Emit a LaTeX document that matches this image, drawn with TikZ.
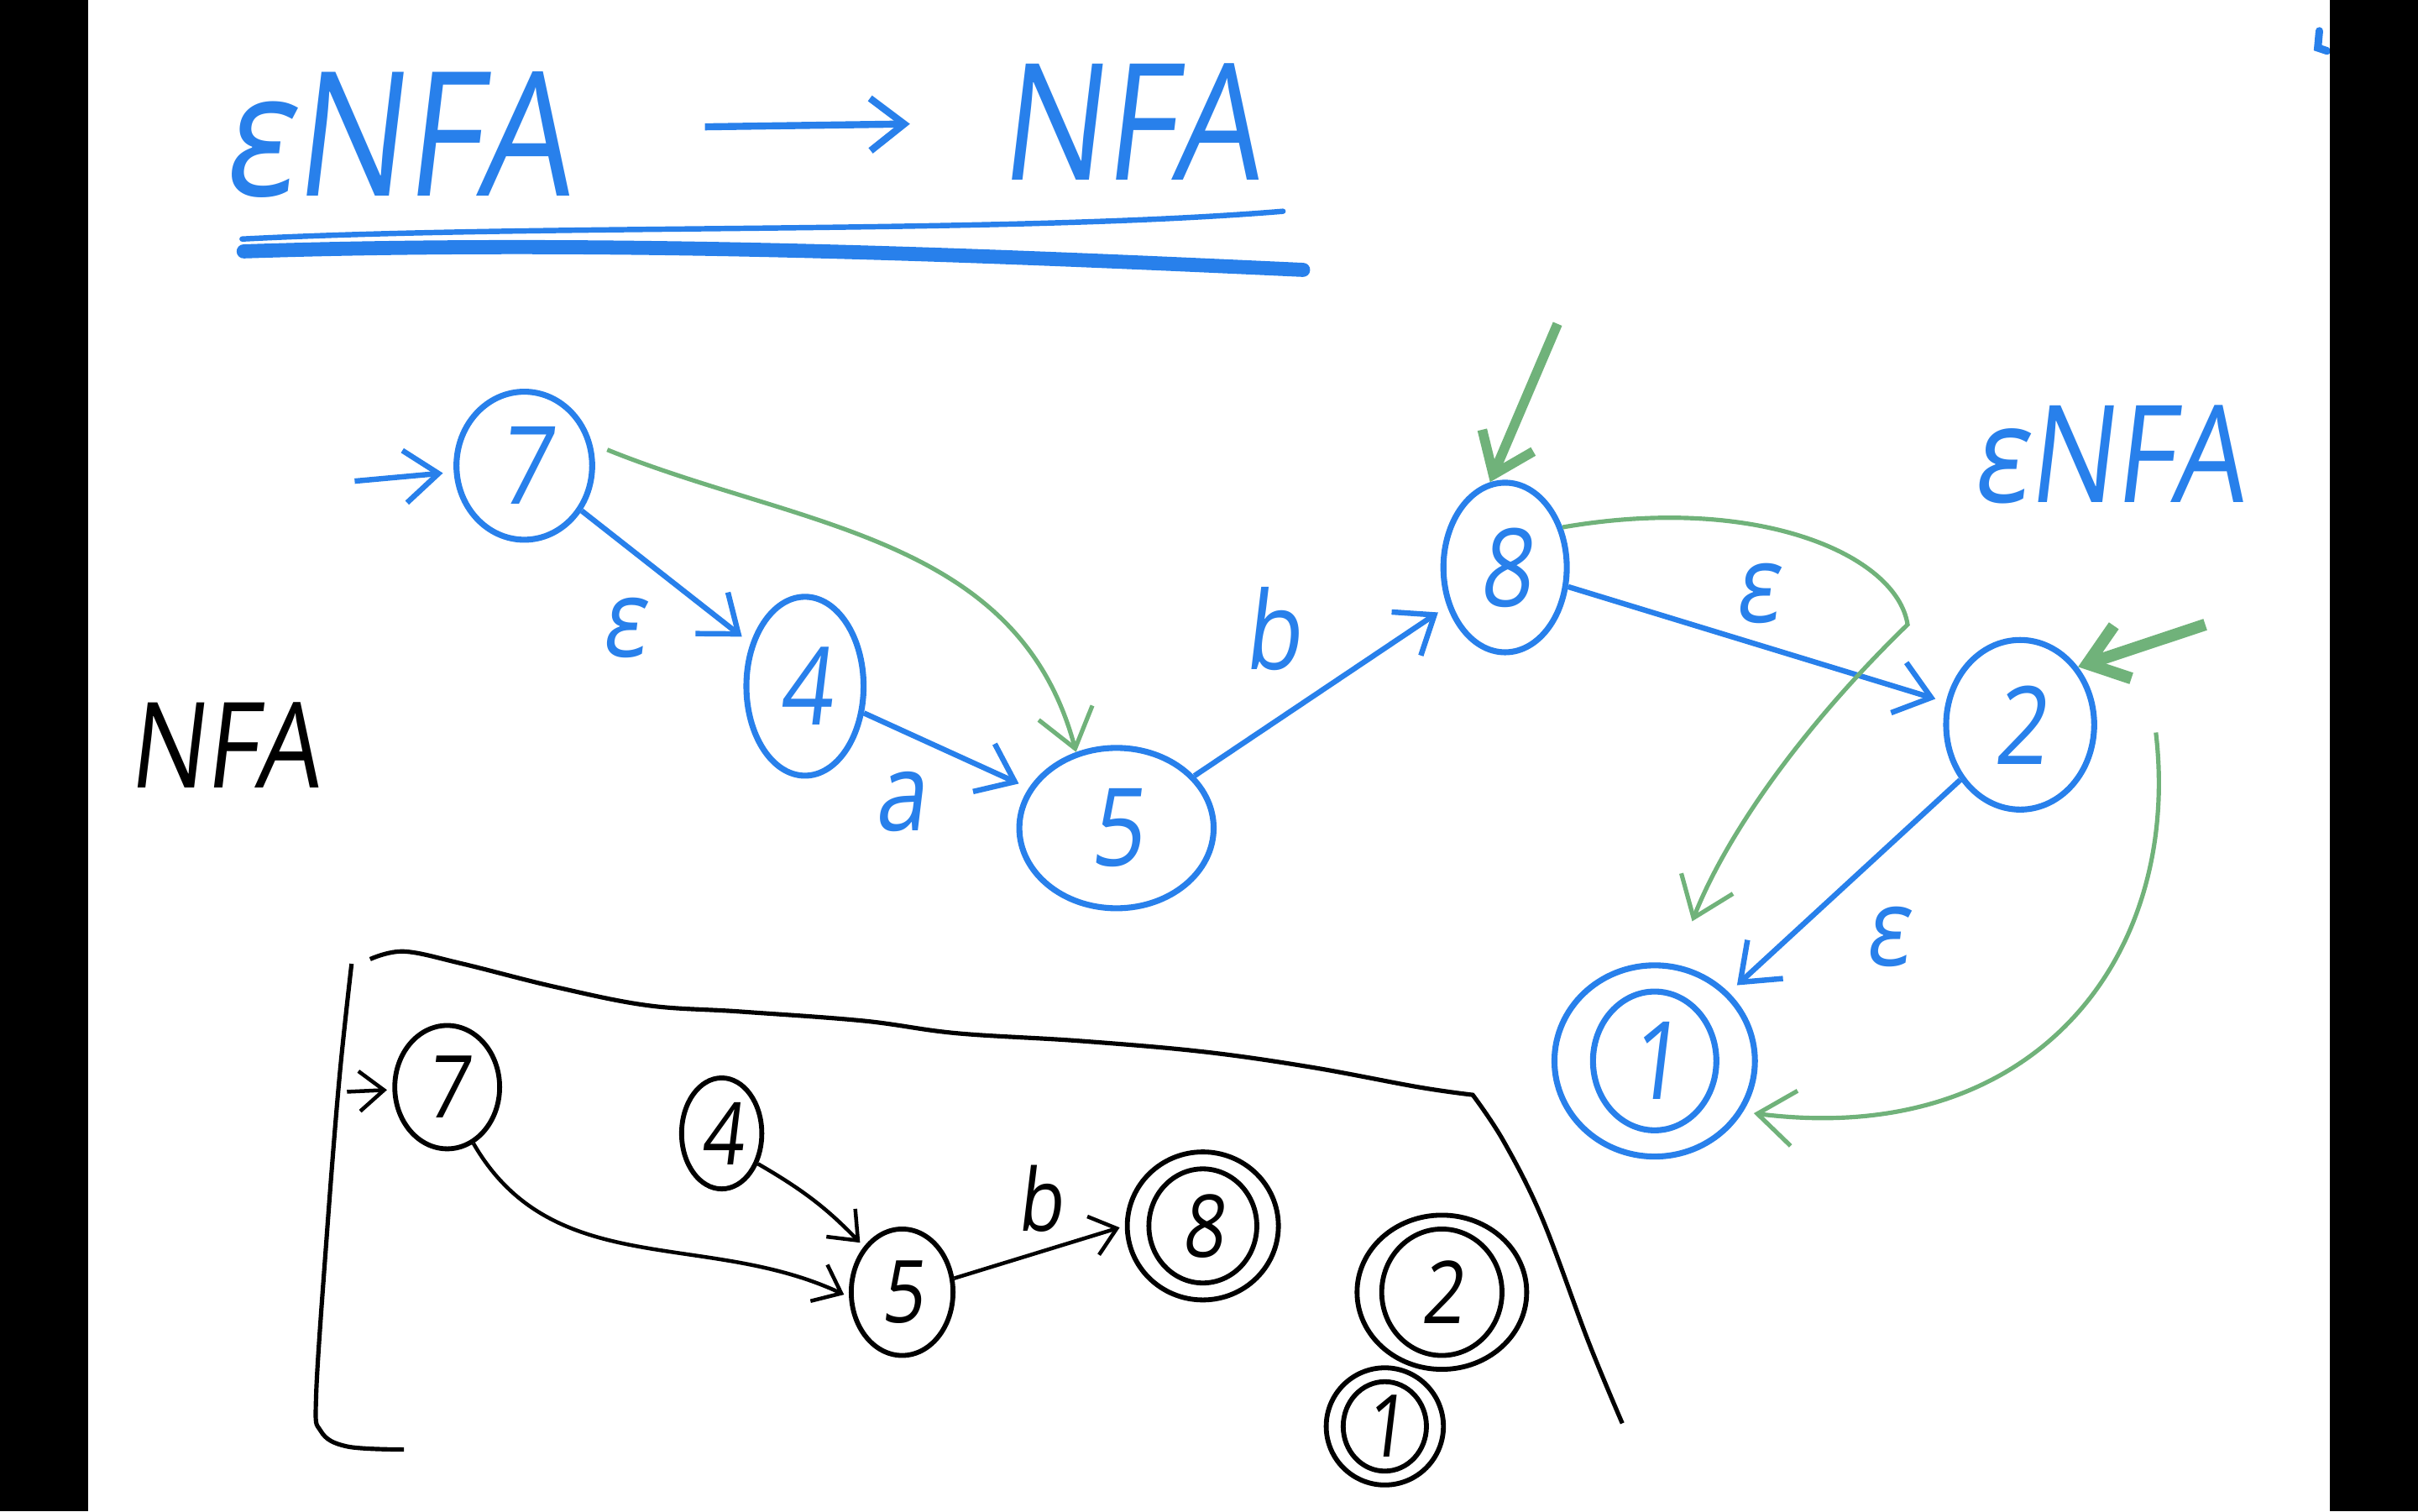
\documentclass[tikz,border=0pt]{standalone}
\usepackage{fontspec}
\setmainfont{Open Sans}
\newfontfamily\handfont[FakeStretch=0.85,FakeSlant=0.12]{Open Sans}
\usetikzlibrary{arrows.meta,shapes.geometric}

\definecolor{penblue}{RGB}{40,128,235}
\definecolor{pengreen}{RGB}{112,178,122}

\begin{document}
\begin{tikzpicture}[
  bstate/.style={draw=penblue,ellipse,line width=1.1pt,text=penblue,inner sep=0pt,font=\handfont\fontsize{20}{20}\selectfont},
  kstate/.style={draw=black,ellipse,line width=0.9pt,inner sep=0pt,font=\handfont\fontsize{16}{16}\selectfont},
  bedge/.style={penblue,line width=1pt,shorten >=2pt,-{Straight Barb[length=2.2mm,width=3.4mm]}},
  gedge/.style={pengreen,line width=0.8pt,-{Straight Barb[length=2.4mm,width=3.6mm]}},
  kedge/.style={black,line width=0.7pt,shorten >=1pt,-{Straight Barb[length=1.6mm,width=2.6mm]}},
  blab/.style={text=penblue,font=\handfont\fontsize{20}{20}\selectfont},
  klab/.style={text=black,font=\handfont\fontsize{16}{16}\selectfont}]

\useasboundingbox (0,0) rectangle (15.68,-9.8);

% corner mark, then the black bars
\draw[penblue,line width=1.4pt,line cap=round] (15.04,-0.20) -- (15.03,-0.31) -- (15.09,-0.33);
\fill[black] (0,0) rectangle (0.57,-9.8);
\fill[black] (15.11,0) rectangle (15.68,-9.8);

% title
\node[penblue,anchor=base,font=\handfont\fontsize{32}{32}\selectfont] (tleft) at (2.57,-1.27) {εNFA};
\node[penblue,anchor=base,font=\handfont\fontsize{30}{30}\selectfont] (tright) at (7.32,-1.17) {NFA};
\draw[bedge,line width=1.3pt] (tleft.east) ++(0.75,0.05) coordinate (tarr) (tarr) -- ++(1.4,0.02) coordinate (tarrend);
\draw[penblue,line width=1pt,line cap=round] (1.57,-1.55) .. controls (3.5,-1.45) and (6.5,-1.52) .. (8.32,-1.37);
\draw[penblue,line width=2.6pt,line cap=round] (1.58,-1.63) .. controls (4,-1.55) and (6.5,-1.66) .. (8.45,-1.75);

% eNFA
\coordinate (U7) at (3.40,-3.02);
\coordinate (U4) at (5.22,-4.45);
\coordinate (U5) at (7.24,-5.37);
\coordinate (U8) at (9.76,-3.68);
\coordinate (U2) at (13.10,-4.70);
\coordinate (U1) at (10.73,-6.88);

\node[bstate,minimum width=0.88cm,minimum height=0.96cm] (u7) at (U7) {7};
\node[bstate,minimum width=0.76cm,minimum height=1.16cm] (u4) at (U4) {4};
\node[bstate,minimum width=1.26cm,minimum height=1.04cm] (u5) at (U5) {5};
\node[bstate,minimum width=0.80cm,minimum height=1.10cm] (u8) at (U8) {8};
\node[bstate,minimum width=0.96cm,minimum height=1.10cm] (u2) at (U2) {2};
\node[bstate,minimum width=1.30cm,minimum height=1.24cm] (u1) at (U1) {1};
\node[bstate,minimum width=0.80cm,minimum height=0.90cm] (u1in) at (U1) {};

\coordinate (u7in) at (2.30,-3.12);
\draw[bedge] (u7in) -- (u7);

\foreach \a/\b/\t/\p in {u7/u4/ε/below left,u4/u5/a/below left,u5/u8/b/above left,u8/u2/ε/above,u2/u1/ε/below right}{
  \draw[bedge] (\a) -- (\b) node[midway,\p,blab] {\t};
}

% green closure arrows
\coordinate (g8hook) at (12.37,-4.05);
\coordinate (g2out) at (13.98,-4.75);
\coordinate (g8mark) at (10.10,-2.10);
\coordinate (g2mark) at (14.30,-4.05);
\draw[gedge,shorten <=3pt] (u7.18) to[out=-22,in=105] (u5.118);
\draw[gedge,shorten >=3mm] (u8.35) .. controls (11.4,-3.2) and (12.3,-3.6) .. (g8hook)
  .. controls (11.7,-4.7) and (11.2,-5.4) .. (u1.78);
\draw[gedge,shorten >=2pt] (g2out) .. controls (14.15,-6.2) and (13.2,-7.45) .. (u1.-30);
\draw[gedge,line width=1.8pt] (g8mark) -- (u8.100);
\draw[gedge,line width=2.2pt] (g2mark) -- (u2.45);

\node[blab,font=\handfont\fontsize{25}{25}\selectfont] (elabel) at (13.67,-2.95) {εNFA};
\node[klab,font=\handfont\fontsize{22}{22}\selectfont] (nlabel) at (1.45,-4.83) {NFA};

% NFA
\draw[black,line width=0.8pt] plot[smooth,tension=0.6] coordinates {(2.40,-6.22) (2.62,-6.17) (3.00,-6.25) (3.60,-6.40) (4.20,-6.52) (4.80,-6.56) (5.60,-6.62) (6.20,-6.70) (7.00,-6.75) (7.80,-6.82) (8.50,-6.92) (9.20,-7.05) (9.55,-7.10)}
  -- plot[smooth,tension=0.6] coordinates {(9.55,-7.10) (9.75,-7.40) (10.00,-7.90) (10.30,-8.70) (10.52,-9.23)};
\draw[black,line width=0.8pt] plot[smooth,tension=0.6] coordinates {(2.28,-6.25) (2.20,-7.00) (2.12,-8.00) (2.05,-9.05) (2.08,-9.28) (2.25,-9.38) (2.62,-9.40)};

\coordinate (L7) at (2.90,-7.05);
\coordinate (L4) at (4.68,-7.35);
\coordinate (L5) at (5.85,-8.38);
\coordinate (L8) at (7.80,-7.95);
\coordinate (L2) at (9.35,-8.38);
\coordinate (L1) at (8.98,-9.25);

\node[kstate,minimum width=0.68cm,minimum height=0.80cm] (l7) at (L7) {7};
\node[kstate,minimum width=0.52cm,minimum height=0.72cm] (l4) at (L4) {4};
\node[kstate,minimum width=0.66cm,minimum height=0.82cm] (l5) at (L5) {5};
\node[kstate,minimum width=0.98cm,minimum height=0.96cm] (l8) at (L8) {8};
\node[kstate,minimum width=0.70cm,minimum height=0.74cm] (l8in) at (L8) {};
\node[kstate,minimum width=1.10cm,minimum height=1.00cm] (l2) at (L2) {2};
\node[kstate,minimum width=0.78cm,minimum height=0.82cm] (l2in) at (L2) {};
\node[kstate,minimum width=0.76cm,minimum height=0.76cm] (l1) at (L1) {1};
\node[kstate,minimum width=0.54cm,minimum height=0.58cm] (l1in) at (L1) {};

\coordinate (l7in) at (2.25,-7.08);
\draw[kedge] (l7in) -- (l7);
\draw[kedge] (l7.-65) to[out=-60,in=155] (l5.185) node[pos=0.42,below left,klab] {a};
\draw[kedge] (l4.-40) to[bend left=8] (l5.130) node[midway,above right,klab] {a};
\draw[kedge] (l5.15) -- (l8.west) node[midway,above,klab] {b};

\end{tikzpicture}
\end{document}
